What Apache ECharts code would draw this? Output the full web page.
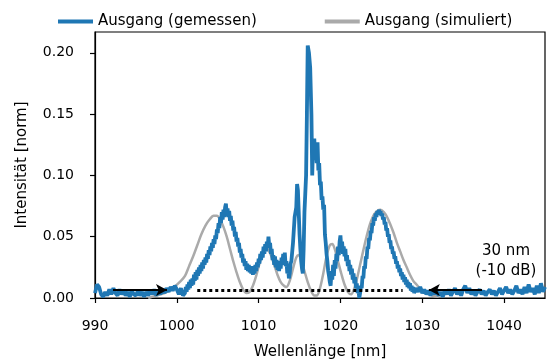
<!DOCTYPE html>
<html>
<head>
<meta charset="utf-8">
<script src="https://cdn.jsdelivr.net/npm/echarts@6/dist/echarts.min.js"></script>
<style>html,body{margin:0;padding:0;background:#fff}#c{width:555px;height:360px}</style>
</head>
<body>
<div id="c"></div>
<script>
// ---- data ----
const xTicks = [990, 1000, 1010, 1020, 1030, 1040];
const yTicks = [0, 0.05, 0.10, 0.15, 0.20];
const seriesNames = ['Ausgang (gemessen)', 'Ausgang (simuliert)'];

const measured = [
[990,0.004],[990.25,0.011],[990.5,0.009],[990.75,0.003],[991,0.001],[991.25,0.005],[991.5,0.002],[991.75,0.007],
[992,0.003],[992.25,0.008],[992.5,0.004],[992.75,0.002],[993,0.007],[993.25,0.003],[993.5,0.006],[993.75,0.002],
[994,0.005],[994.25,0.001],[994.5,0.006],[994.75,0.003],[995,0.002],[995.25,0.006],[995.5,0.002],[995.75,0.005],
[996,0.001],[996.25,0.005],[996.5,0.002],[996.75,0.006],[997,0.003],[997.25,0.007],[997.5,0.002],[997.75,0.006],
[998,0.003],[998.25,0.007],[998.5,0.004],[998.75,0.008],[999,0.005],[999.25,0.009],[999.5,0.006],[999.75,0.010],
[1000,0.007],[1000.25,0.003],[1000.5,0.008],[1000.75,0.002],
[1001,0.004],[1001.1,0.009],[1001.2,0.005],[1001.3,0.011],[1001.4,0.007],[1001.5,0.013],[1001.6,0.008],[1001.7,0.015],
[1001.8,0.010],[1001.9,0.016],[1002,0.011],[1002.1,0.019],[1002.2,0.014],[1002.3,0.021],[1002.4,0.015],[1002.5,0.023],
[1002.6,0.018],[1002.7,0.025],[1002.8,0.020],[1002.9,0.027],[1003,0.022],[1003.1,0.029],[1003.2,0.024],[1003.3,0.031],
[1003.4,0.027],[1003.5,0.033],[1003.6,0.029],[1003.7,0.036],[1003.8,0.032],[1003.9,0.039],[1004,0.035],[1004.1,0.042],
[1004.2,0.038],[1004.3,0.045],[1004.4,0.041],[1004.5,0.048],[1004.6,0.044],[1004.7,0.051],[1004.8,0.048],[1004.9,0.056],
[1005,0.053],[1005.1,0.061],[1005.2,0.057],[1005.3,0.066],[1005.4,0.061],[1005.5,0.070],[1005.6,0.064],[1005.7,0.072],
[1005.8,0.066],[1005.9,0.074],[1006,0.077],[1006.1,0.068],[1006.2,0.073],[1006.3,0.066],[1006.4,0.071],[1006.5,0.063],
[1006.6,0.067],[1006.7,0.059],[1006.8,0.063],[1006.9,0.055],[1007,0.058],[1007.1,0.050],[1007.2,0.054],[1007.3,0.046],
[1007.4,0.049],[1007.5,0.042],[1007.6,0.045],[1007.7,0.037],[1007.8,0.040],[1007.9,0.033],[1008,0.036],[1008.1,0.029],
[1008.2,0.032],[1008.3,0.026],[1008.4,0.030],[1008.5,0.023],[1008.6,0.028],[1008.7,0.022],[1008.8,0.027],[1008.9,0.021],
[1009,0.026],[1009.1,0.020],[1009.2,0.025],[1009.3,0.019],[1009.4,0.026],[1009.5,0.020],[1009.6,0.027],[1009.7,0.022],
[1009.8,0.029],[1009.9,0.025],[1010,0.032],[1010.1,0.028],[1010.2,0.036],[1010.3,0.031],[1010.4,0.038],[1010.5,0.033],
[1010.6,0.042],[1010.7,0.036],[1010.8,0.044],[1010.9,0.038],[1011,0.046],[1011.1,0.041],[1011.2,0.050],[1011.3,0.042],
[1011.4,0.045],[1011.5,0.036],[1011.6,0.040],[1011.7,0.031],[1011.8,0.035],[1011.9,0.027],[1012,0.034],[1012.1,0.025],
[1012.2,0.031],[1012.3,0.023],[1012.4,0.030],[1012.5,0.022],[1012.6,0.029],[1012.7,0.024],[1012.8,0.033],[1012.9,0.027],
[1013,0.036],[1013.1,0.029],[1013.2,0.037],[1013.3,0.026],[1013.4,0.030],[1013.5,0.020],[1013.6,0.025],[1013.7,0.016],
[1013.8,0.020],[1013.9,0.028],[1014,0.030],[1014.2,0.045],[1014.4,0.066],[1014.6,0.074],
[1014.7,0.093],[1014.8,0.088],[1014.9,0.070],[1015,0.052],[1015.1,0.040],[1015.2,0.030],[1015.3,0.024],[1015.4,0.020],
[1015.5,0.040],[1015.6,0.070],[1015.7,0.085],[1015.8,0.100],[1015.9,0.150],[1016,0.206],[1016.15,0.200],[1016.3,0.188],
[1016.45,0.150],[1016.55,0.100],[1016.65,0.125],[1016.8,0.130],[1016.9,0.116],[1017,0.120],[1017.1,0.110],[1017.2,0.127],
[1017.3,0.104],[1017.4,0.110],[1017.5,0.092],[1017.6,0.095],[1017.7,0.080],[1017.8,0.083],[1017.9,0.072],[1018,0.076],
[1018.1,0.052],[1018.2,0.045],[1018.3,0.036],[1018.4,0.030],[1018.5,0.022],[1018.6,0.018],[1018.7,0.013],
[1018.8,0.010],[1018.9,0.022],[1019,0.015],[1019.1,0.027],[1019.2,0.018],[1019.3,0.031],[1019.4,0.024],[1019.5,0.036],
[1019.6,0.030],[1019.7,0.042],[1019.8,0.035],[1019.9,0.046],[1020,0.051],[1020.1,0.040],[1020.2,0.046],[1020.3,0.036],
[1020.4,0.042],[1020.5,0.034],[1020.6,0.040],[1020.7,0.030],[1020.8,0.035],[1020.9,0.026],[1021,0.031],[1021.1,0.022],
[1021.2,0.027],[1021.3,0.019],[1021.4,0.024],[1021.5,0.015],[1021.6,0.020],[1021.7,0.012],[1021.8,0.017],[1021.9,0.008],
[1022,0.012],[1022.1,0.004],[1022.2,0.007],[1022.3,0.000],[1022.4,0.004],[1022.5,0.010],[1022.6,0.008],[1022.7,0.018],
[1022.8,0.016],[1022.9,0.026],[1023,0.024],[1023.1,0.034],[1023.2,0.032],[1023.3,0.042],[1023.4,0.040],[1023.5,0.049],
[1023.6,0.047],[1023.7,0.055],[1023.8,0.053],[1023.9,0.061],[1024,0.059],[1024.1,0.066],[1024.2,0.063],[1024.3,0.069],
[1024.4,0.066],[1024.5,0.071],[1024.6,0.068],[1024.7,0.072],[1024.8,0.069],[1024.9,0.071],[1025,0.067],[1025.1,0.069],
[1025.2,0.064],[1025.3,0.066],[1025.4,0.060],[1025.5,0.062],[1025.6,0.055],[1025.7,0.057],[1025.8,0.050],[1025.9,0.052],
[1026,0.045],[1026.1,0.047],[1026.2,0.040],[1026.3,0.042],[1026.4,0.036],[1026.5,0.038],[1026.6,0.032],[1026.7,0.034],
[1026.8,0.028],[1026.9,0.030],[1027,0.024],[1027.1,0.027],[1027.2,0.021],[1027.3,0.024],[1027.4,0.018],[1027.5,0.021],
[1027.6,0.015],[1027.7,0.019],[1027.8,0.013],[1027.9,0.017],[1028,0.011],[1028.1,0.015],[1028.2,0.009],[1028.3,0.013],
[1028.4,0.008],[1028.5,0.012],[1028.6,0.006],[1028.7,0.010],[1028.8,0.005],[1028.9,0.009],[1029,0.004],
[1029.25,0.008],[1029.5,0.005],[1029.75,0.009],[1030,0.004],[1030.25,0.007],[1030.5,0.003],[1030.75,0.006],
[1031,0.002],[1031.25,0.006],[1031.5,0.003],[1031.75,0.007],[1032,0.002],[1032.25,0.005],[1032.5,0.001],[1032.75,0.006],
[1033,0.003],[1033.25,0.007],[1033.5,0.002],[1033.75,0.005],[1034,0.008],[1034.25,0.003],[1034.5,0.006],[1034.75,0.002],
[1035,0.007],[1035.25,0.010],[1035.5,0.004],[1035.75,0.008],[1036,0.003],[1036.25,0.006],[1036.5,0.002],[1036.75,0.005],
[1037,0.007],[1037.25,0.003],[1037.5,0.006],[1037.75,0.002],[1038,0.005],[1038.25,0.007],[1038.5,0.003],[1038.75,0.006],
[1039,0.002],[1039.25,0.005],[1039.5,0.008],[1039.75,0.003],[1040,0.006],[1040.25,0.009],[1040.5,0.004],[1040.75,0.007],
[1041,0.003],[1041.25,0.006],[1041.5,0.010],[1041.75,0.004],[1042,0.007],[1042.25,0.003],[1042.5,0.009],[1042.75,0.004],
[1043,0.011],[1043.25,0.005],[1043.5,0.008],[1043.75,0.003],[1044,0.010],[1044.25,0.004],[1044.5,0.012],[1044.75,0.005],
[1045,0.009]
];

const simulated = [
[996.5,0.000],[997.5,0.002],[998.5,0.004],[999.5,0.008],[1000.5,0.014],[1001,0.018],[1001.5,0.026],[1002,0.034],
[1002.5,0.043],[1003,0.052],[1003.5,0.059],[1004,0.064],[1004.5,0.067],[1004.9,0.067],[1005.3,0.064],[1005.7,0.058],
[1006.1,0.050],[1006.5,0.040],[1006.9,0.030],[1007.3,0.021],[1007.7,0.013],[1008.1,0.007],[1008.5,0.004],[1008.9,0.005],
[1009.3,0.010],[1009.7,0.018],[1010.1,0.028],[1010.5,0.037],[1010.8,0.041],[1011.1,0.040],[1011.5,0.035],[1011.9,0.027],
[1012.3,0.019],[1012.7,0.013],[1013.1,0.010],[1013.4,0.009],[1013.8,0.014],[1014.2,0.024],[1014.6,0.033],[1014.9,0.035],
[1015.2,0.031],[1015.6,0.022],[1016,0.013],[1016.4,0.006],[1016.8,0.002],[1017.1,0.002],[1017.5,0.008],[1017.9,0.020],
[1018.3,0.034],[1018.7,0.043],[1019,0.044],[1019.3,0.040],[1019.7,0.030],[1020.1,0.020],[1020.5,0.011],[1020.9,0.005],
[1021.3,0.003],[1021.7,0.008],[1022.1,0.018],[1022.5,0.030],[1022.9,0.042],[1023.3,0.053],[1023.7,0.062],[1024.1,0.068],
[1024.5,0.071],[1024.9,0.072],[1025.3,0.070],[1025.7,0.066],[1026.1,0.060],[1026.5,0.053],[1026.9,0.045],[1027.3,0.038],
[1027.7,0.031],[1028.1,0.025],[1028.5,0.019],[1028.9,0.014],[1029.3,0.011],[1029.7,0.008],[1030.1,0.006],[1030.6,0.004],
[1031.2,0.002],[1032,0.001]
];

// annotation: -10 dB bandwidth markers
const bandLevel = 0.0065;
const bandSpan = [1002.5, 1027.6];
const arrowLeft = [992.2, 998.8];   // tail -> tip
const arrowRight = [1037.3, 1030.8]; // tail -> tip
const bandLabel = '30 nm\n(-10 dB)';

// ---- chart ----
const FONT = 'DejaVu Sans';
const chart = echarts.init(document.getElementById('c'), null, {renderer: 'canvas'});
chart.setOption({
  animation: false,
  backgroundColor: '#fff',
  textStyle: {fontFamily: FONT, color: '#000'},
  legend: {
    left: 53, top: 9,
    itemWidth: 35, itemHeight: 4, itemGap: 68,
    textStyle: {fontFamily: FONT, fontSize: 15, color: '#000'},
    data: [{name: seriesNames[0], icon: 'rect'}, {name: seriesNames[1], icon: 'rect'}]
  },
  grid: {left: 95, right: 10, top: 32, bottom: 62, show: true, borderColor: '#000', borderWidth: 1.2,
    backgroundColor: 'transparent', outerBoundsMode: 'none', containLabel: false},
  xAxis: {
    type: 'value', min: 990, max: 1045,
    name: 'Wellenlänge [nm]', nameLocation: 'middle', nameGap: 47, nameMoveOverlap: false,
    nameTextStyle: {fontFamily: FONT, fontSize: 15, color: '#000'},
    axisLine: {show: true, lineStyle: {color: '#000', width: 1.2}},
    axisTick: {show: true, length: 5, lineStyle: {color: '#000', width: 1.2}, customValues: xTicks},
    axisLabel: {fontFamily: FONT, fontSize: 14, color: '#000', margin: 21, customValues: xTicks,
      formatter: v => String(v)},
    splitLine: {show: false}
  },
  yAxis: {
    type: 'value', min: 0, max: 0.217,
    name: 'Intensität [norm]', nameLocation: 'middle', nameGap: 65, nameRotate: 90, nameMoveOverlap: false,
    nameTextStyle: {fontFamily: FONT, fontSize: 15, color: '#000'},
    axisLine: {show: true, lineStyle: {color: '#000', width: 1.2}},
    axisTick: {show: true, length: 5, lineStyle: {color: '#000', width: 1.2}, customValues: yTicks},
    axisLabel: {fontFamily: FONT, fontSize: 14, color: '#000', margin: 21, customValues: yTicks,
      formatter: v => v.toFixed(2)},
    splitLine: {show: false}
  },
  series: [
    {
      name: seriesNames[0], type: 'line', data: measured, showSymbol: false, z: 3,
      color: '#1f77b4', lineStyle: {color: '#1f77b4', width: 3.8}
    },
    {
      name: seriesNames[1], type: 'line', data: simulated, showSymbol: false, smooth: 0.3, z: 2,
      color: '#aaaaaa', lineStyle: {color: '#aaaaaa', width: 2.5}
    },
    {
      name: 'annot', type: 'line', data: [], z: 4,
      markLine: {
        silent: true, animation: false, label: {show: false},
        data: [
          [{coord: [bandSpan[0], bandLevel], symbol: 'none', lineStyle: {type: [3, 3], width: 3, color: '#000'}},
           {coord: [bandSpan[1], bandLevel], symbol: 'none'}],
          [{coord: [arrowLeft[0], bandLevel], symbol: 'none', lineStyle: {type: 'solid', width: 1.8, color: '#000'}},
           {coord: [arrowLeft[1], bandLevel], symbol: 'arrow', symbolSize: [9, 11]}],
          [{coord: [arrowRight[0], bandLevel], symbol: 'none', lineStyle: {type: 'solid', width: 1.8, color: '#000'}},
           {coord: [arrowRight[1], bandLevel], symbol: 'arrow', symbolSize: [9, 11]}]
        ]
      }
    }
  ],
  graphic: [{
    type: 'text', x: 506, y: 241,
    style: {text: bandLabel, textAlign: 'center', fontFamily: FONT, fontSize: 15, lineHeight: 20, fill: '#000'}
  }]
});
</script>
</body>
</html>
